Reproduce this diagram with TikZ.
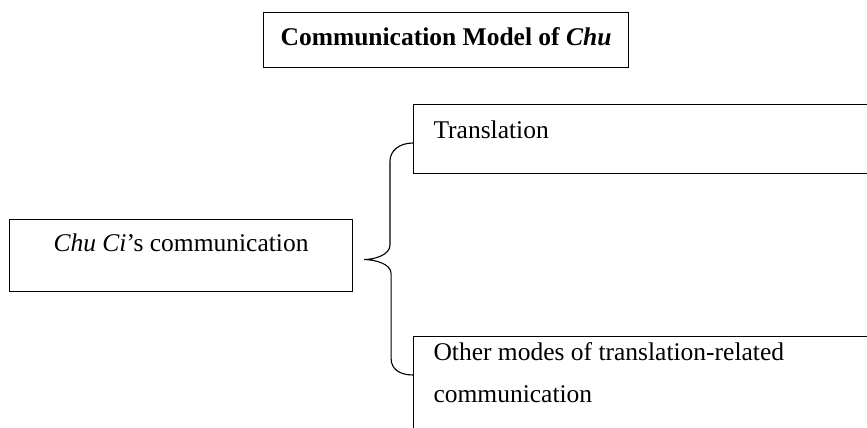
\documentclass[tikz,border=0pt]{standalone}
\usepackage{fontspec}
\setmainfont{Liberation Serif}
\usepackage{tikz}
\tikzset{
  block/.style={rectangle, draw=black, line width=1.1pt, inner sep=0pt,
                font=\fontsize{25.5}{42}\selectfont},
  titleblock/.style={block, font=\fontsize{25.5}{42}\selectfont\bfseries},
  branchblock/.style={block, align=flush left, text width=447pt, inner xsep=20pt},
  brace/.style={line width=1.1pt, draw=black},
}

\begin{document}
\begin{tikzpicture}[x=1pt, y=-1pt]
  \useasboundingbox (0,0) rectangle (867,428);
  \clip (0,0) rectangle (867,428);

  % Title
  \node[titleblock, anchor=north west, minimum width=365pt,
        text height=33pt, text depth=22pt] (title) at (263,12)
    {Communication Model of \textit{Chu}};

  % Source
  \node[block, anchor=north west, minimum width=343pt,
        text height=32pt, text depth=40pt] (chu) at (9,219)
    {\textit{Chu Ci}’s communication};

  % Branches
  \node[branchblock, anchor=north west,
        text height=34pt, text depth=35pt] (trans) at (413,104)
    {Translation};
  \node[branchblock, anchor=north west,
        text height=24pt, text depth=120pt] (other) at (413,336)
    {Other modes of translation-related\\communication};

  % Brace
  \coordinate (brtop) at ([yshift=-39pt]trans.north west);
  \coordinate (brbot) at ([yshift=-39pt]other.north west);
  \coordinate (brtip) at ([xshift=11pt, yshift=-4pt]chu.east);
  \draw[brace] (brtop) .. controls +(-14,0) and +(0,-10) .. ++(-23,18)
    -- ++(0,84) .. controls +(0,10) and +(10,0) .. (brtip)
    .. controls +(10,0) and +(0,-10) .. ++(27,14)
    -- ++(0,85) .. controls +(0,10) and +(-14,0) .. (brbot);
\end{tikzpicture}
\end{document}
